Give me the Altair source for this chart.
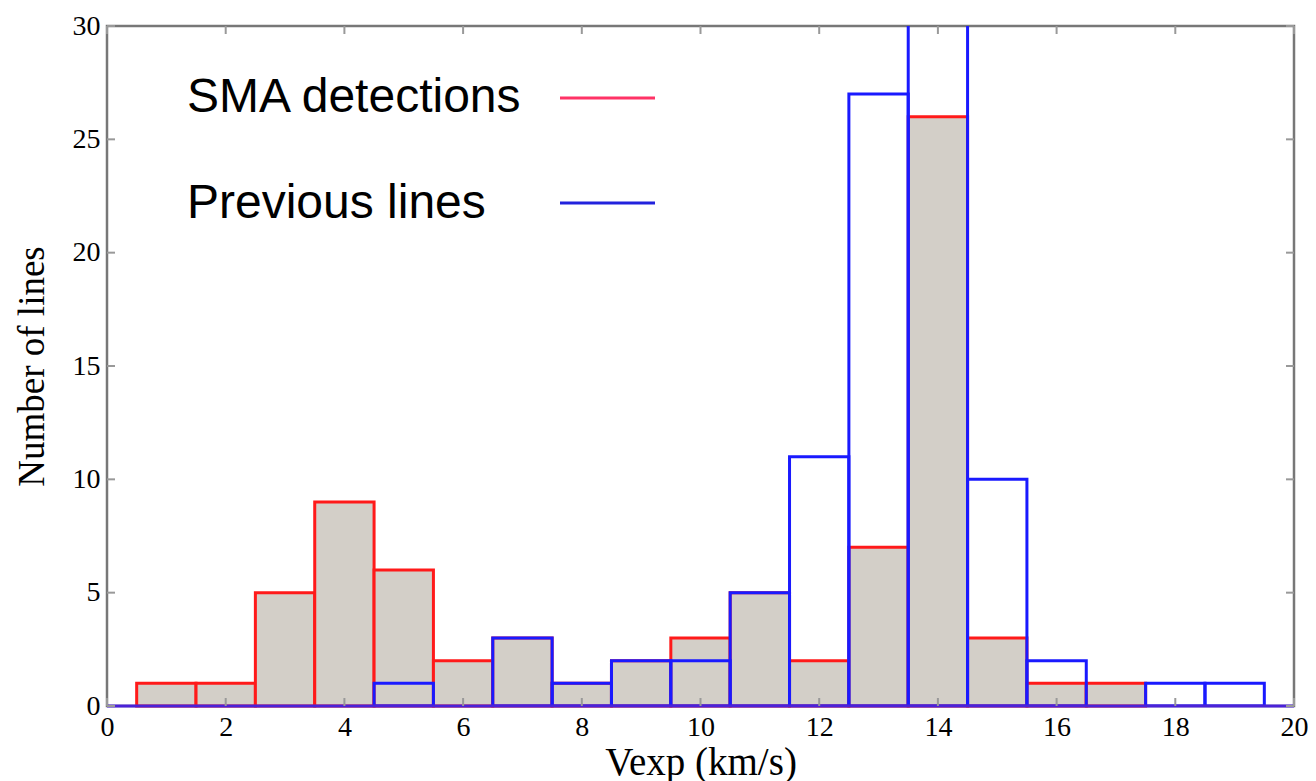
import altair as alt
import pandas as pd

# Bin centres (km/s), each bin 1 km/s wide
bin_centers = list(range(1, 20))
sma_counts = [1, 1, 5, 9, 6, 2, 3, 1, 2, 3, 5, 2, 7, 26, 3, 1, 1, 0, 0]
prev_counts = [0, 0, 0, 0, 1, 0, 3, 1, 2, 2, 5, 11, 27, 34, 10, 2, 0, 1, 1]
x_ticks = list(range(0, 21, 2))
y_ticks = list(range(0, 31, 5))
legend_labels = ["SMA detections", "Previous lines"]

W, H = 1187, 680

sma = pd.DataFrame({"c": bin_centers, "n": sma_counts})
sma["x0"] = sma["c"] - 0.5
sma["x1"] = sma["c"] + 0.5
sma = sma[sma["n"] > 0]
prev = pd.DataFrame({"c": bin_centers, "n": prev_counts})
prev["x0"] = prev["c"] - 0.5
prev["x1"] = prev["c"] + 0.5
prev = prev[prev["n"] > 0]

xs = alt.Scale(domain=[0, 20], nice=False, zero=False)
ys = alt.Scale(domain=[0, 30], nice=False)

xaxis = alt.Axis(values=x_ticks, format="d", domain=False, ticks=False, grid=False,
                 labelFlush=False, labelOverlap=False,
                 labelFont="Liberation Serif", labelFontSize=28, labelColor="black",
                 labelPadding=7, title="Vexp (km/s)", titleFont="Liberation Serif",
                 titleFontSize=39, titleFontWeight="normal", titleColor="black",
                 titleY=68, titleBaseline="alphabetic")
yaxis = alt.Axis(values=y_ticks, format="d", domain=False, ticks=False, grid=False,
                 labelFlush=False, labelOverlap=False,
                 labelFont="Liberation Serif", labelFontSize=28, labelColor="black",
                 labelPadding=7, title="Number of lines", titleFont="Liberation Serif",
                 titleFontSize=37, titleFontWeight="normal", titleColor="black",
                 titleX=-64, titleY=H / 2, titleAngle=-90, titleBaseline="alphabetic",
                 titleAlign="center")

red_bars = alt.Chart(sma).mark_rect(fill="#d3cfc8", stroke="#ff1a1a", strokeWidth=3).encode(
    x=alt.X("x0:Q", scale=xs, axis=xaxis),
    x2="x1:Q",
    y=alt.Y("n:Q", scale=ys, axis=yaxis),
    y2=alt.datum(0),
)

blue_bars = alt.Chart(prev).mark_rect(fill=None, stroke="#1a1aff", strokeWidth=3, clip=True).encode(
    x=alt.X("x0:Q", scale=xs),
    x2="x1:Q",
    y=alt.Y("n:Q", scale=ys),
    y2=alt.datum(0),
)

baseline = alt.Chart(pd.DataFrame({"a": [0], "b": [20], "y": [0]})).mark_rule(
    color="#4a22d8", strokeWidth=3).encode(
    x=alt.X("a:Q", scale=xs), x2="b:Q", y=alt.Y("y:Q", scale=ys))

xt = pd.DataFrame({"t": x_ticks})
yt = pd.DataFrame({"t": y_ticks})
tick_color = "#999999"
xb = alt.Chart(xt).mark_rule(color=tick_color, strokeWidth=2).encode(
    x=alt.X("t:Q", scale=xs), y=alt.value(H), y2=alt.value(H - 8))
xtp = alt.Chart(xt).mark_rule(color=tick_color, strokeWidth=2).encode(
    x=alt.X("t:Q", scale=xs), y=alt.value(0), y2=alt.value(8))
yl = alt.Chart(yt).mark_rule(color=tick_color, strokeWidth=2).encode(
    y=alt.Y("t:Q", scale=ys), x=alt.value(0), x2=alt.value(8))
yr = alt.Chart(yt).mark_rule(color=tick_color, strokeWidth=2).encode(
    y=alt.Y("t:Q", scale=ys), x=alt.value(W), x2=alt.value(W - 8))

leg_font = dict(font="Liberation Sans", fontSize=48, align="left", baseline="alphabetic", color="black")
t1 = alt.Chart(pd.DataFrame({"l": [legend_labels[0]]})).mark_text(**leg_font).encode(
    text="l:N", x=alt.value(80), y=alt.value(86))
t2 = alt.Chart(pd.DataFrame({"l": [legend_labels[1]]})).mark_text(**leg_font).encode(
    text="l:N", x=alt.value(80), y=alt.value(192))
l1 = alt.Chart(pd.DataFrame({"l": [legend_labels[0]]})).mark_rule(color="#ff3366", strokeWidth=3).encode(
    x=alt.value(453), x2=alt.value(548), y=alt.value(72))
l2 = alt.Chart(pd.DataFrame({"l": [legend_labels[1]]})).mark_rule(color="#2222dd", strokeWidth=3).encode(
    x=alt.value(453), x2=alt.value(548), y=alt.value(177))

chart = alt.layer(red_bars, blue_bars, baseline, xb, xtp, yl, yr, t1, t2, l1, l2).properties(
    width=W, height=H,
    autosize=alt.AutoSizeParams(type="none"),
    padding={"left": 99, "top": 18, "right": 14, "bottom": 80},
).configure_view(stroke="#777777", strokeWidth=2.5)

chart.save("out.html", embed_options={"renderer": "svg", "actions": False})
